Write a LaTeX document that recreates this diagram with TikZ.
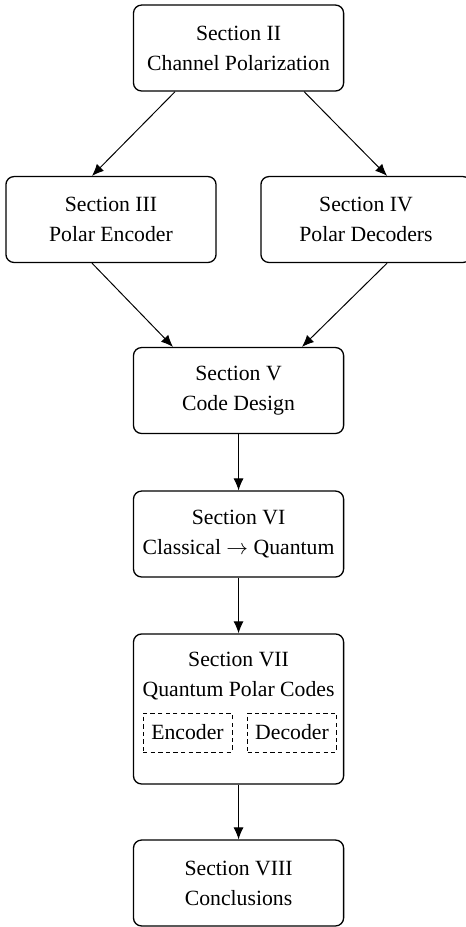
\documentclass[tikz,border=0pt]{standalone}
\usepackage{fontspec}
\setmainfont{Liberation Serif}
\usetikzlibrary{calc,arrows.meta}

\tikzset{
  secbox/.style={draw, rounded corners=3.7pt, line width=0.6pt, minimum width=3.4cm,
    minimum height=1.39cm, align=center, font=\fontsize{10}{13.8}\selectfont},
  partbox/.style={draw, dash pattern=on 2pt off 1.5pt, line width=0.45pt,
    minimum width=1.44cm, minimum height=0.63cm, font=\fontsize{10}{12}\selectfont},
  flow/.style={-{Latex[length=5.5pt,width=4.6pt]}, line width=0.45pt},
}

\begin{document}
\begin{tikzpicture}[scale=1]
  \useasboundingbox (0,0) rectangle (7.54,-15.0);

  % sections
  \node[secbox] (s2) at (3.86,-0.777) {Section II\\Channel Polarization};
  \node[secbox] (s3) at (1.796,-3.552) {Section III\\Polar Encoder};
  \node[secbox] (s4) at (5.922,-3.552) {Section IV\\Polar Decoders};
  \node[secbox] (s5) at (3.86,-6.319) {Section V\\Code Design};
  \node[secbox] (s6) at (3.86,-8.641) {Section VI\\Classical $\rightarrow$ Quantum};
  \node[secbox, minimum height=2.427cm] (s7) at (3.86,-11.472) {};
  \node[align=center, font=\fontsize{10}{13.8}\selectfont] (s7txt) at ([yshift=-0.69cm]s7.north)
    {Section VII\\Quantum Polar Codes};
  \node[secbox] (s8) at (3.86,-14.288) {Section VIII\\Conclusions};

  % parts of section VII
  \node[partbox] (enc) at (3.034,-11.853) {Encoder};
  \node[partbox] (dec) at (4.725,-11.853) {Decoder};

  % arrows
  \draw[flow] ($(s2.south west)!0.2!(s2.south east)$) -- ($(s3.north west)!0.41!(s3.north east)$);
  \draw[flow] ($(s2.south west)!0.81!(s2.south east)$) -- ($(s4.north west)!0.6!(s4.north east)$);
  \draw[flow] ($(s3.south west)!0.41!(s3.south east)$) -- ($(s5.north west)!0.19!(s5.north east)$);
  \draw[flow] ($(s4.south west)!0.6!(s4.south east)$) -- ($(s5.north west)!0.8!(s5.north east)$);
  \draw[flow] (s5) -- (s6);
  \draw[flow] (s6) -- (s7);
  \draw[flow] (s7) -- (s8);
\end{tikzpicture}
\end{document}
